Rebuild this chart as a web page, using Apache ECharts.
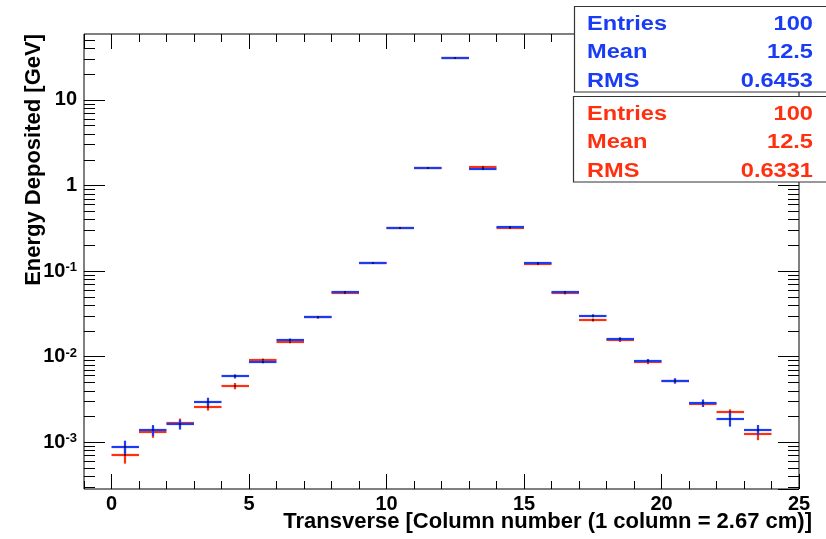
<!DOCTYPE html>
<html>
<head>
<meta charset="utf-8">
<script src="https://cdn.jsdelivr.net/npm/echarts@6/dist/echarts.min.js"></script>
<style>
html,body{margin:0;padding:0;background:#fff;}
#chart{width:826px;height:539px;}
</style>
</head>
<body>
<div id="chart"></div>
<script>
// ---- data ----
const binCenters = [0.5,1.5,2.5,3.5,4.5,5.5,6.5,7.5,8.5,9.5,10.5,11.5,12.5,13.5,14.5,15.5,16.5,17.5,18.5,19.5,20.5,21.5,22.5,23.5];
const binWidth = 1;
const blueValues = [8.9e-4,1.39e-3,1.62e-3,2.98e-3,5.9e-3,8.74e-3,1.567e-2,2.88e-2,5.7e-2,0.1243,0.319,1.614,31.1,1.58,0.325,0.1233,5.65e-2,3.01e-2,1.597e-2,8.91e-3,5.24e-3,2.88e-3,1.887e-3,1.404e-3];
const blueErrors = [1.55e-4,2.0e-4,2.1e-4,3.4e-4,3.2e-4,3.6e-4,6.4e-4,7.8e-4,1.5e-3,2.4e-3,4.1e-3,1.3e-2,0.16,1.3e-2,4.2e-3,2.3e-3,1.5e-3,1.2e-3,8.8e-4,4.9e-4,3.7e-4,2.85e-4,3.6e-4,1.9e-4];
const redValues = [7.11e-4,1.319e-3,1.703e-3,2.61e-3,4.55e-3,9.15e-3,1.497e-2,2.88e-2,5.6e-2,0.1243,0.319,1.614,31.1,1.667,0.3162,0.12,5.5e-2,2.685e-2,1.554e-2,8.67e-3,5.16e-3,2.8e-3,2.24e-3,1.24e-3];
const redErrors = [1.47e-4,1.9e-4,1.9e-4,2.6e-4,3.8e-4,3.8e-4,6.1e-4,7.8e-4,1.5e-3,2.4e-3,4.1e-3,1.3e-2,0.16,1.3e-2,4.1e-3,2.3e-3,1.5e-3,1.1e-3,6.4e-4,4.8e-4,2.8e-4,2.0e-4,1.9e-4,1.8e-4];
const xTickLabels = [0, 5, 10, 15, 20, 25];
const statLabels = ['Entries','Mean','RMS'];
const blueStats = ['100','12.5','0.6453'];
const redStats = ['100','12.5','0.6331'];
const xTitle = 'Transverse [Column number (1 column = 2.67 cm)]';
const yTitle = 'Energy Deposited [GeV]';
const xMin = -1, xMax = 25;
const yMin = 2.85e-4, yMax = 58.9;

// ---- styles ----
const BLUE = '#1a3cf5';
const RED = '#ff3010';
const FONT = '"Liberation Sans", Arial, Helvetica, sans-serif';

const chart = echarts.init(document.getElementById('chart'), null, {renderer: 'canvas'});

const minorY = [];
for (let e = -4; e <= 1; e++) {
  for (let k = 2; k <= 9; k++) {
    const v = k * Math.pow(10, e);
    if (v > yMin && v < yMax) minorY.push(Math.log10(v));
  }
}

function yFmt(v) {
  const e = Math.round(Math.log10(v));
  if (e >= 0) return String(Math.round(Math.pow(10, e)));
  return '10{sup|' + e + '}';
}

function histSeries(name, values, errors, color) {
  return {
    type: 'custom',
    name: name,
    xAxisIndex: 0,
    yAxisIndex: 0,
    clip: false,
    data: binCenters.map((x, i) => [x, values[i], errors[i]]),
    encode: {x: 0, y: 1},
    renderItem: function (params, api) {
      const x = api.value(0), y = api.value(1), e = api.value(2);
      const pL = api.coord([x - binWidth / 2, y]);
      const pR = api.coord([x + binWidth / 2, y]);
      const pc = api.coord([x, y]);
      const pu = api.coord([x, y + e]);
      const pd = api.coord([x, y - e]);
      const yy = Math.round(pc[1]);
      const xc = Math.round(pc[0]);
      return {
        type: 'group',
        children: [
          {type: 'line', shape: {x1: pL[0], y1: yy, x2: pR[0], y2: yy}, style: {stroke: color, lineWidth: 2.2}},
          {type: 'line', shape: {x1: xc, y1: pu[1], x2: xc, y2: pd[1]}, style: {stroke: color, lineWidth: 2.2}},
          {type: 'rect', shape: {x: xc - 0.8, y: yy - 0.8, width: 1.6, height: 1.6}, style: {fill: '#000'}}
        ]
      };
    }
  };
}

function tickAxisX(pos, interval, len) {
  const a = {
    type: 'value', min: xMin, max: xMax, position: pos,
    axisLine: {show: false, onZero: false},
    splitLine: {show: false},
    axisLabel: {show: false},
    axisTick: {show: true, inside: true, length: len, lineStyle: {color: '#000', width: 1}}
  };
  if (interval) a.interval = interval; else a.splitNumber = 5;
  return a;
}

function statBox(top, left, labels, values, color) {
  const els = [{
    type: 'rect', z: 100,
    shape: {x: left, y: top, width: 270, height: 85.5},
    style: {fill: '#fff', stroke: '#333', lineWidth: 1.2}
  }];
  labels.forEach((lab, i) => {
    const yy = top + 17.5 + i * 28.7;
    els.push({type: 'text', z: 101, x: 587, y: yy, scaleX: 1.18,
      style: {text: lab, fill: color, fontSize: 20, fontWeight: 'bold', fontFamily: FONT, align: 'left', verticalAlign: 'middle'}});
    els.push({type: 'text', z: 101, x: 813, y: yy, scaleX: 1.18,
      style: {text: values[i], fill: color, fontSize: 20, fontWeight: 'bold', fontFamily: FONT, align: 'right', verticalAlign: 'middle'}});
  });
  return els;
}

const baseGraphic = [].concat(
  [{type: 'text', z: 50, x: 812, y: 522,
    style: {text: xTitle, fill: '#000', fontSize: 22, fontWeight: 'bold', fontFamily: FONT, align: 'right', verticalAlign: 'middle'}}],
  statBox(6.5, 574.5, statLabels, blueStats, BLUE),
  statBox(96.5, 573.5, statLabels, redStats, RED)
);

const option = {
  animation: false,
  backgroundColor: '#fff',
  grid: {
    left: 84, top: 34, width: 715, height: 455,
    show: true, borderColor: '#000', borderWidth: 1, backgroundColor: 'transparent'
  },
  xAxis: [
    {
      type: 'value', min: xMin, max: xMax, splitNumber: 5, position: 'bottom',
      axisLine: {show: false, onZero: false},
      splitLine: {show: false},
      axisTick: {show: true, inside: true, length: 15, customValues: xTickLabels, lineStyle: {color: '#000', width: 1}},
      axisLabel: {show: false}
    },
    tickAxisX('bottom', 1, 8),
    tickAxisX('top', 0, 15),
    tickAxisX('top', 1, 8)
  ],
  yAxis: [
    {
      type: 'log', logBase: 10, min: yMin, max: yMax, position: 'left',
      axisLine: {show: false, onZero: false},
      splitLine: {show: false},
      minorTick: {show: false},
      axisTick: {show: true, inside: true, length: 21, lineStyle: {color: '#000', width: 1}},
      axisLabel: {
        showMinLabel: false, showMaxLabel: false, margin: 7, color: '#000',
        fontSize: 20, fontWeight: 'bold', fontFamily: FONT,
        formatter: yFmt,
        rich: {sup: {fontSize: 13, fontWeight: 'bold', fontFamily: FONT, color: '#000', verticalAlign: 'top'}}
      }
    },
    {
      type: 'value', min: Math.log10(yMin), max: Math.log10(yMax), position: 'left',
      axisLine: {show: false, onZero: false}, splitLine: {show: false}, axisLabel: {show: false},
      axisTick: {show: true, inside: true, length: 11, customValues: minorY, lineStyle: {color: '#000', width: 1}},
      name: yTitle, nameLocation: 'end', nameRotate: 90, nameGap: 0,
      nameTextStyle: {align: 'right', verticalAlign: 'bottom', padding: [0, 0, 39, 0], fontSize: 22, fontWeight: 'bold', color: '#000', fontFamily: FONT}
    },
    {
      type: 'log', logBase: 10, min: yMin, max: yMax, position: 'right',
      axisLine: {show: false, onZero: false}, splitLine: {show: false}, axisLabel: {show: false},
      axisTick: {show: true, inside: true, length: 21, lineStyle: {color: '#000', width: 1}}
    },
    {
      type: 'value', min: Math.log10(yMin), max: Math.log10(yMax), position: 'right',
      axisLine: {show: false, onZero: false}, splitLine: {show: false}, axisLabel: {show: false},
      axisTick: {show: true, inside: true, length: 11, customValues: minorY, lineStyle: {color: '#000', width: 1}}
    }
  ],
  series: [
    histSeries('red', redValues, redErrors, RED),
    histSeries('blue', blueValues, blueErrors, BLUE)
  ],
  graphic: baseGraphic
};

chart.setOption(option);

// x tick labels placed through the x axis scale
const xLabelEls = xTickLabels.map(function (v) {
  const p = chart.convertToPixel({xAxisIndex: 0, yAxisIndex: 0}, [v, yMin]);
  return {type: 'text', z: 50, x: p[0], y: p[1] + 5,
    style: {text: String(v), fill: '#000', fontSize: 20, fontWeight: 'bold', fontFamily: FONT, align: 'center', verticalAlign: 'top'}};
});
chart.setOption({graphic: baseGraphic.concat(xLabelEls)});
</script>
</body>
</html>
